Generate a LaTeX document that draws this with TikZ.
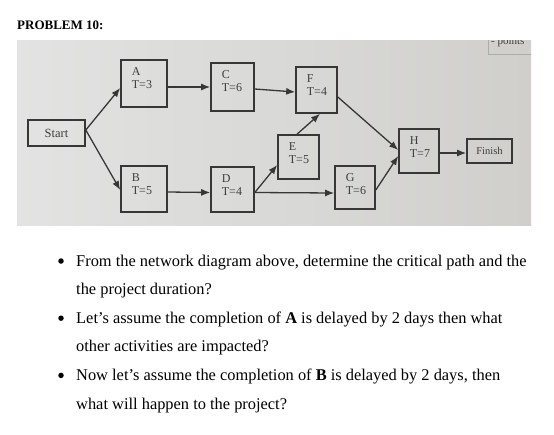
\documentclass[tikz,border=0pt]{standalone}
\usepackage{fontspec}
\setmainfont{Liberation Serif}
\usetikzlibrary{arrows.meta}
\definecolor{photoL}{RGB}{226,227,226}
\definecolor{photoR}{RGB}{208,207,204}
\definecolor{boxline}{RGB}{55,55,55}
\definecolor{boxtext}{RGB}{62,62,62}
\definecolor{pointsline}{RGB}{172,172,169}
\tikzset{
  act/.style={draw=boxline, line width=1.6pt, inner sep=0pt},
  lbl/.style={text=boxtext, font=\fontsize{12}{12.5}\selectfont, align=left, inner sep=0pt, anchor=north west},
  conn/.style={draw=boxline, line width=1.3pt, -{Latex[length=9pt,width=7pt]}},
  bodytext/.style={font=\fontsize{16.4}{20}\selectfont, anchor=base west, inner sep=0pt},
  bul/.style={circle, fill=black, inner sep=0pt, minimum size=5.5pt},
}
\begin{document}
\begin{tikzpicture}[x=1pt,y=-1pt]
\useasboundingbox (0,0) rectangle (554,434);
\fill[white] (0,0) rectangle (554,434);
\node[font=\bfseries\fontsize{13}{15}\selectfont, anchor=base west, inner sep=0pt] (title) at (17,29) {PROBLEM 10:};
% photo of the network
\shade[left color=photoL, right color=photoR] (17,40) rectangle (531,225);
\begin{scope}
  \clip (17,40) rectangle (531,225);
  \draw[pointsline, line width=0.8pt] (488,30) -- (488,54) -- (540,54);
  \node[anchor=base west, inner sep=0pt, font=\fontsize{11}{13}\selectfont, text=boxtext] (pts) at (491,44) {- points};
\end{scope}
% activity boxes
\node[act, minimum width=57, minimum height=26, text=boxtext, font=\fontsize{12.5}{14}\selectfont] (start) at (56.5,133) {Start};
\node[act, minimum width=46, minimum height=47] (A) at (144,83.5) {};
\node[act, minimum width=46, minimum height=46] (B) at (144,189) {};
\node[act, minimum width=43, minimum height=48] (C) at (232.5,87) {};
\node[act, minimum width=43, minimum height=45] (D) at (232.5,189.5) {};
\node[act, minimum width=41, minimum height=44] (E) at (298.5,157) {};
\node[act, minimum width=41, minimum height=46] (F) at (316.5,90) {};
\node[act, minimum width=40, minimum height=43] (G) at (355,187.5) {};
\node[act, minimum width=40, minimum height=44] (H) at (419,151) {};
\node[act, minimum width=45, minimum height=24, text=boxtext, font=\fontsize{10.5}{12}\selectfont] (finish) at (489.5,151) {Finish};
% labels
\node[lbl] (Al) at ([shift={(11.5,8.5)}]A.north west) {A\\T=3};
\node[lbl] (Bl) at ([shift={(11.5,8.5)}]B.north west) {B\\T=5};
\node[lbl] (Cl) at ([shift={(11.5,8.5)}]C.north west) {C\\T=6};
\node[lbl] (Dl) at ([shift={(11.5,8.5)}]D.north west) {D\\T=4};
\node[lbl] (El) at ([shift={(11.5,8.5)}]E.north west) {E\\T=5};
\node[lbl] (Fl) at ([shift={(11.5,8.5)}]F.north west) {F\\T=4};
\node[lbl] (Gl) at ([shift={(11.5,8.5)}]G.north west) {G\\T=6};
\node[lbl] (Hl) at ([shift={(11.5,8.5)}]H.north west) {H\\T=7};
% connectors
\draw[conn] ([yshift=3pt]start.east) -- ([yshift=-4.5pt]A.west);
\draw[conn] ([yshift=3pt]start.east) -- ([yshift=-1pt]B.west);
\draw[conn] ([yshift=-3.5pt]A.east) -- (C.west);
\draw[conn] ([yshift=-2pt]C.east) -- ([yshift=-2pt]F.west);
\draw[conn] ([yshift=-3pt]B.east) -- ([yshift=-3pt]D.west);
\draw[conn] ([yshift=-3pt]D.east) -- ([yshift=-8pt]E.west);
\draw[conn] ([yshift=-3pt]D.east) -- ([yshift=-5.5pt]G.west);
\draw[conn] ([xshift=-1.5pt]E.north) -- ([xshift=3.5pt]F.south);
\draw[conn] ([yshift=-7pt]F.east) -- ([yshift=1pt]H.west);
\draw[conn] ([yshift=-2.5pt]G.east) -- ([yshift=-5pt]H.west);
\draw[conn] ([yshift=-2pt]H.east) -- ([yshift=-2pt]finish.west);
% questions
\node[bul] (b1) at (61,261) {};
\node[bodytext] (q1a) at (76,266) {From the network diagram above, determine the critical path and the};
\node[bodytext] (q1b) at (76,294.6) {the project duration?};
\node[bul] (b2) at (61,318.2) {};
\node[bodytext] (q2a) at (76,323.2) {Let’s assume the completion of \textbf{A} is delayed by 2 days then what};
\node[bodytext] (q2b) at (76,351.8) {other activities are impacted?};
\node[bul] (b3) at (61,375.4) {};
\node[bodytext] (q3a) at (76,380.4) {Now let’s assume the completion of \textbf{B} is delayed by 2 days, then};
\node[bodytext] (q3b) at (76,409) {what will happen to the project?};
\end{tikzpicture}
\end{document}
